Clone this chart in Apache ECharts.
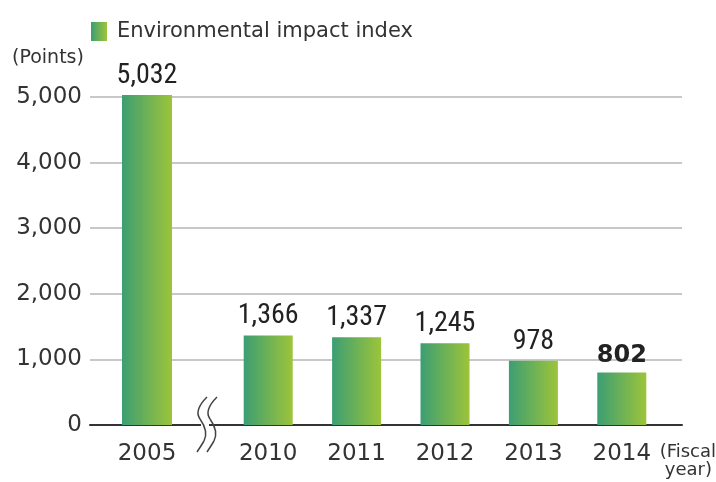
<!DOCTYPE html>
<html>
<head>
<meta charset="utf-8">
<script src="https://cdn.jsdelivr.net/npm/echarts@6/dist/echarts.min.js"></script>
<style>
html,body{margin:0;padding:0;background:#fff;}
#c{width:716px;height:482px;}
</style>
</head>
<body>
<div id="c"></div>
<script>
var seriesName = 'Environmental impact index';
var baseYear = ['2005'];
var recentYears = ['2010', '2011', '2012', '2013', '2014'];
var baseValue = [5032];
var recentValues = [1366, 1337, 1245, 978, 802];
var yTicks = [0, 1000, 2000, 3000, 4000, 5000];

var chart = echarts.init(document.getElementById('c'));
var FONT = 'DejaVu Sans';
var NARROW = '"Liberation Sans Narrow", "Arial Narrow", "Roboto Condensed", sans-serif';

var grad = {
  type: 'linear', x: 0, y: 0, x2: 1, y2: 0,
  colorStops: [
    {offset: 0, color: '#3c9e73'},
    {offset: 1, color: '#9dc43a'}
  ]
};

function fmt(v) { return String(v).replace(/\B(?=(\d{3})+(?!\d))/g, ','); }

var TOP = 97, BOTTOM = 57;

function barItems(vals, boldLast) {
  return vals.map(function (v, i) {
    var item = {value: v};
    if (boldLast && i === vals.length - 1) {
      item.label = {fontWeight: 'bold', fontFamily: FONT, fontSize: 24};
    }
    return item;
  });
}

var labelCfg = {
  show: true,
  position: 'top',
  distance: 5,
  color: '#222',
  fontFamily: NARROW,
  fontSize: 28,
  formatter: function (p) { return fmt(p.value); }
};

function squiggle(dx) {
  var segs = [
    [207, 397, 200, 404, 195, 412, 200, 419],
    [200, 419, 205, 426, 208, 433, 204, 441],
    [204, 441, 201, 446, 199, 449, 197, 452]
  ];
  return segs.map(function (s) {
    return {
      type: 'bezierCurve', z: 21,
      shape: {x1: s[0] + dx, y1: s[1], cpx1: s[2] + dx, cpy1: s[3], cpx2: s[4] + dx, cpy2: s[5], x2: s[6] + dx, y2: s[7]},
      style: {stroke: '#444', lineWidth: 1.5, fill: null}
    };
  });
}

var graphics = [
  {type: 'text', left: 12, top: 49, z: 10,
   style: {text: '(Points)', font: '19px "DejaVu Sans"', fill: '#333'}},
  {type: 'text', right: 0, top: 443, z: 10,
   style: {text: '(Fiscal', font: '18px "DejaVu Sans"', fill: '#333'}},
  {type: 'text', right: 4, top: 461, z: 10,
   style: {text: 'year)', font: '18px "DejaVu Sans"', fill: '#333'}},
  {type: 'rect', z: 20, shape: {x: 201, y: 420, width: 8, height: 9}, style: {fill: '#fff'}}
].concat(squiggle(0), squiggle(10));

var option = {
  animation: false,
  backgroundColor: '#fff',
  legend: {
    left: 86,
    top: 16,
    itemWidth: 16,
    itemHeight: 19,
    itemGap: 10,
    icon: 'rect',
    textStyle: {fontFamily: FONT, fontSize: 21, color: '#333', padding: [0, 0, 0, 5]},
    data: [seriesName]
  },
  grid: [
    {left: 90, right: 34, top: TOP, bottom: BOTTOM},
    {left: 103, width: 88, top: TOP, bottom: BOTTOM},
    {left: 224, width: 442, top: TOP, bottom: BOTTOM}
  ],
  xAxis: [
    {gridIndex: 0, type: 'value', min: 0, max: 1,
     axisLine: {show: true, onZero: false, lineStyle: {color: '#333', width: 2}},
     axisTick: {show: false}, axisLabel: {show: false}, splitLine: {show: false}},
    {gridIndex: 1, type: 'category', data: baseYear,
     axisLine: {show: false}, axisTick: {show: false},
     axisLabel: {fontFamily: FONT, fontSize: 23, color: '#333', margin: 18}},
    {gridIndex: 2, type: 'category', data: recentYears,
     axisLine: {show: false}, axisTick: {show: false},
     axisLabel: {fontFamily: FONT, fontSize: 23, color: '#333', margin: 18}}
  ],
  yAxis: [
    {gridIndex: 0, type: 'value', min: yTicks[0], max: yTicks[yTicks.length - 1], interval: 1000,
     axisLine: {show: false}, axisTick: {show: false},
     axisLabel: {fontFamily: FONT, fontSize: 23, color: '#333', margin: 8, formatter: fmt},
     splitLine: {lineStyle: {color: '#c8c8c8', width: 2}}},
    {gridIndex: 1, type: 'value', min: 0, max: 5000, show: false, splitLine: {show: false}},
    {gridIndex: 2, type: 'value', min: 0, max: 5000, show: false, splitLine: {show: false}}
  ],
  series: [
    {name: seriesName, type: 'bar', xAxisIndex: 1, yAxisIndex: 1, clip: false,
     barWidth: 50, itemStyle: {color: grad}, label: labelCfg, data: barItems(baseValue, false), z: 3},
    {name: seriesName, type: 'bar', xAxisIndex: 2, yAxisIndex: 2, clip: false,
     barWidth: 49, itemStyle: {color: grad}, label: labelCfg, data: barItems(recentValues, true), z: 3}
  ],
  graphic: graphics
};
chart.setOption(option);
</script>
</body>
</html>
